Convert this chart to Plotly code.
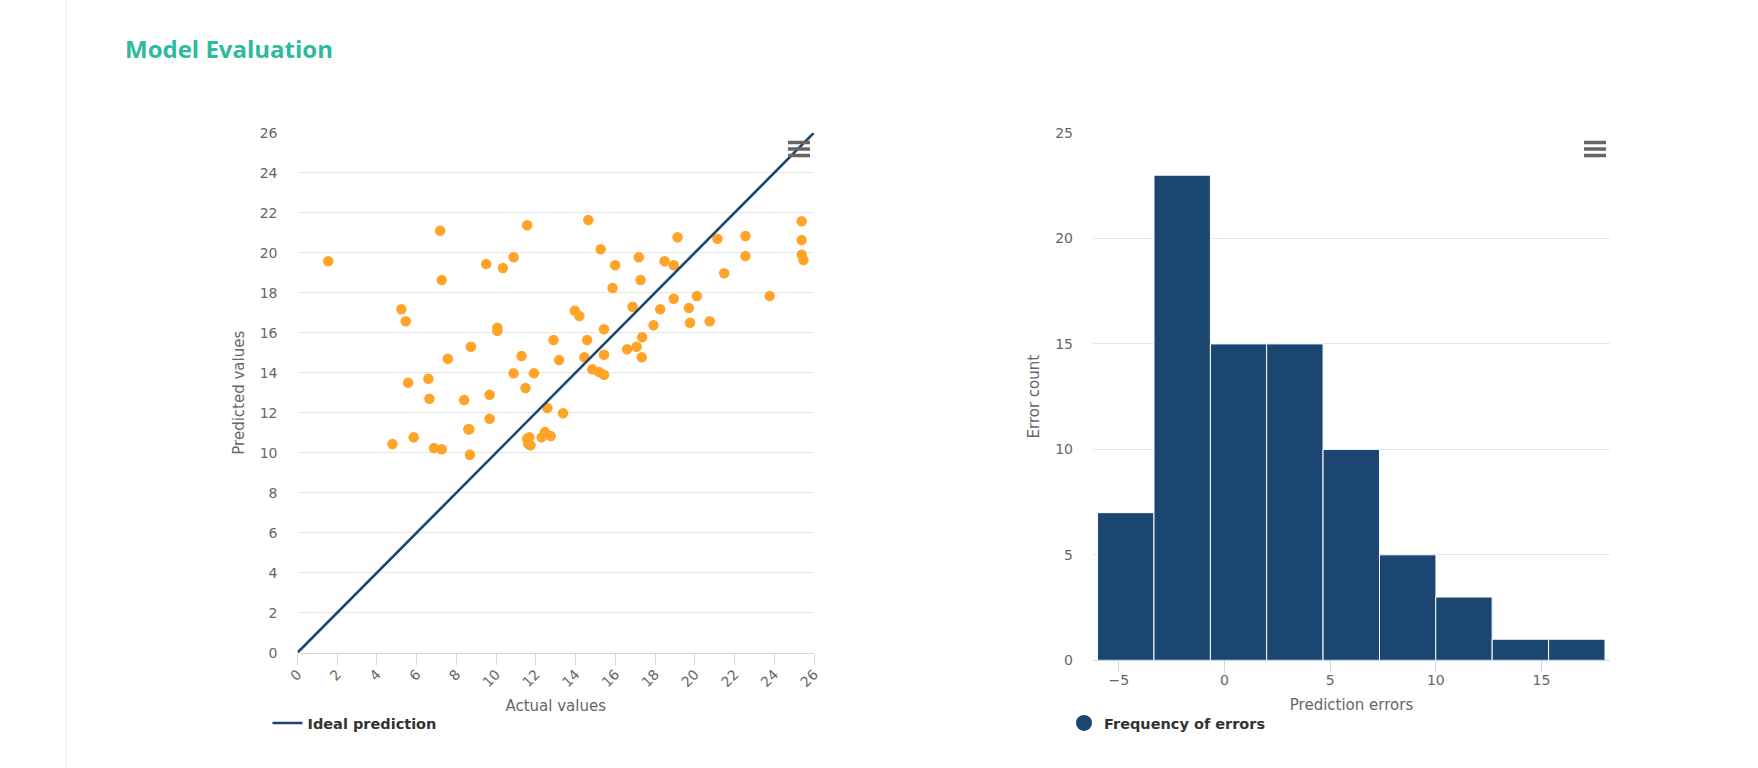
import plotly.graph_objects as go

W, H = 1758, 768

actual = [1.55,5.23,5.45,5.57,6.59,6.64,7.18,7.26,7.57,8.39,8.73,9.67,9.5,10.34,10.88,10.06,10.06,11.28,10.88,11.9,
          11.48,11.56,12.89,13.17,14.64,13.96,14.19,14.58,14.44,14.84,15.18,15.43,15.43,15.43,15.26,15.99,15.86,17.18,17.27,16.87,
          16.59,17.07,17.33,17.35,17.92,18.26,18.48,18.94,18.94,19.13,19.7,19.76,20.1,20.75,21.14,21.48,22.55,22.55,23.77,25.38,
          25.38,25.38,25.47,12.58,13.37,9.67,8.65,8.6,4.78,5.85,6.87,7.26,8.68,11.56,11.67,11.62,11.73,12.29,12.46,12.75]
predicted = [19.57,17.17,16.57,13.5,13.7,12.7,21.1,18.63,14.7,12.63,15.3,12.9,19.43,19.23,19.77,16.25,16.1,14.83,13.97,13.97,
             13.23,21.37,15.63,14.63,21.63,17.1,16.83,15.63,14.77,14.17,14.03,13.9,14.9,16.17,20.17,19.37,18.23,19.77,18.63,17.3,
             15.17,15.3,14.77,15.77,16.37,17.17,19.57,19.37,17.7,20.77,17.23,16.5,17.83,16.57,20.7,18.97,20.83,19.83,17.83,21.57,
             20.63,19.9,19.63,12.23,11.97,11.7,11.17,11.17,10.43,10.77,10.23,10.17,9.9,10.7,10.77,10.43,10.37,10.77,11.03,10.83]
ideal_x = [0, 26]
ideal_y = [0, 26]

bin_centers = [-4.67,-2.0,0.67,3.33,6.0,8.67,11.33,14.0,16.67]
bin_counts = [7,23,15,15,10,5,3,1,1]
bin_width = 2.67

title_text = "Model Evaluation"
left_xlabel, left_ylabel = "Actual values", "Predicted values"
right_xlabel, right_ylabel = "Prediction errors", "Error count"
left_legend, right_legend = "Ideal prediction", "Frequency of errors"
left_ticks = list(range(0, 27, 2))
right_yticks = [0, 5, 10, 15, 20, 25]
right_xticks = [-5, 0, 5, 10, 15]

NAVY = "#1a4671"
ORANGE = "#ffa329"
TEAL = "#2dba9e"
GRID = "#e6e6e6"
AXIS = "#ccd6eb"
TXT = "#666666"
FONT = "DejaVu Sans"

def px(x): return x / W
def py(y): return 1 - y / H

fig = go.Figure()
fig.add_trace(go.Scatter(x=actual, y=predicted, mode="markers", showlegend=False,
                         marker=dict(color=ORANGE, size=10.5), xaxis="x", yaxis="y"))
fig.add_trace(go.Scatter(x=ideal_x, y=ideal_y, mode="lines", name=left_legend,
                         line=dict(color=NAVY, width=2.6), xaxis="x", yaxis="y", legend="legend"))
fig.add_trace(go.Bar(x=bin_centers, y=bin_counts, width=bin_width, showlegend=False,
                     marker=dict(color=NAVY, line=dict(color="white", width=1)), xaxis="x2", yaxis="y2"))
fig.add_trace(go.Scatter(x=[None], y=[None], mode="markers", name=right_legend,
                         marker=dict(color=NAVY, size=17), xaxis="x2", yaxis="y2", legend="legend2"))

tick_font = dict(family=FONT, size=14, color=TXT)
title_font = dict(family=FONT, size=15, color=TXT)
common_x = dict(automargin=False, showgrid=False, zeroline=False, showline=True, linecolor=AXIS, linewidth=1,
                ticks="outside", ticklen=11, tickcolor=AXIS, tickwidth=1, tickfont=tick_font, ticklabelstandoff=-4)
common_y = dict(automargin=False, showgrid=True, gridcolor=GRID, gridwidth=1, zeroline=False, showline=False,
                ticks="", tickfont=tick_font, ticklabelstandoff=19)

shapes = [dict(type="line", xref="paper", yref="paper", x0=px(66), x1=px(66), y0=0, y1=1,
               line=dict(color="#f0f0f0", width=1))]
for cx, cy in [(799, 149), (1595, 149)]:
    for dy in (-6.5, 0, 6.5):
        shapes.append(dict(type="line", xref="paper", yref="paper", layer="above",
                           x0=px(cx - 11), x1=px(cx + 11), y0=py(cy + dy), y1=py(cy + dy),
                           line=dict(color="#666666", width=3.5)))

fig.update_layout(
    width=W, height=H, margin=dict(l=0, r=0, t=0, b=0), autosize=False,
    paper_bgcolor="white", plot_bgcolor="white", font=dict(family=FONT, color=TXT),
    xaxis=dict(domain=[px(297.5), px(814)], range=[0, 26], tickmode="array", tickvals=left_ticks,
               tickangle=-45, anchor="y", title=dict(text=left_xlabel, font=title_font, standoff=11), **common_x),
    yaxis=dict(domain=[py(652.7), py(132.7)], range=[0, 26], tickmode="array", tickvals=left_ticks,
               anchor="x", title=dict(text=left_ylabel, font=title_font, standoff=11), **common_y),
    xaxis2=dict(domain=[px(1093), px(1610)], range=[-6.22, 18.24], tickmode="array", tickvals=right_xticks,
                anchor="y2", title=dict(text=right_xlabel, font=title_font, standoff=12), **common_x),
    yaxis2=dict(domain=[py(660.3), py(133)], range=[0, 25], tickmode="array", tickvals=right_yticks,
                anchor="x2", title=dict(text=right_ylabel, font=title_font, standoff=11), **common_y),
    legend=dict(x=px(267.5), y=py(723), xanchor="left", yanchor="middle", bgcolor="rgba(0,0,0,0)",
                font=dict(family=FONT, size=14.5, color="#333333", weight="bold"), itemwidth=30),
    legend2=dict(x=px(1064), y=py(723), xanchor="left", yanchor="middle", bgcolor="rgba(0,0,0,0)",
                 font=dict(family=FONT, size=14.5, color="#333333", weight="bold"), itemwidth=30),
    shapes=shapes,
    annotations=[dict(text=title_text, xref="paper", yref="paper", x=px(123), y=py(48), xanchor="left",
                      yanchor="middle", showarrow=False,
                      font=dict(family="Open Sans", size=24, color=TEAL, weight="bold"))],
)

fig.write_html("out.html", config={"displayModeBar": False}, post_script="document.body.style.margin='0';")
